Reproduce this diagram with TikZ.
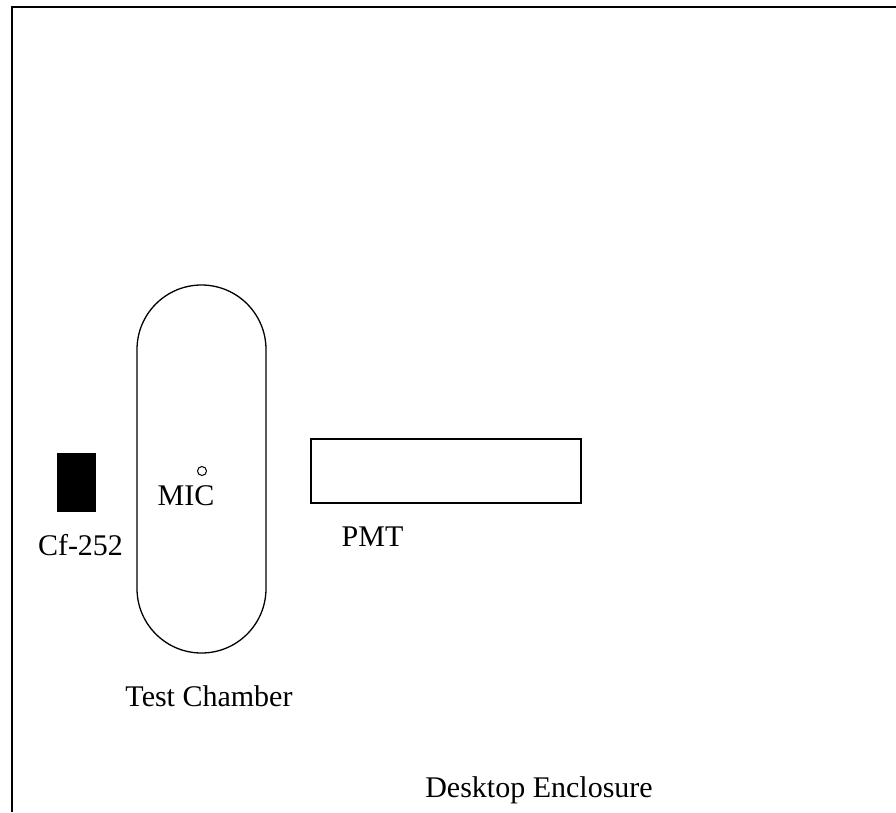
\documentclass[tikz,border=0pt]{standalone}
\usepackage{fontspec}
\setmainfont{Liberation Serif}
\usetikzlibrary{positioning}

\begin{document}
\begin{tikzpicture}[x=1pt,y=-1pt,
    txt/.style={font=\fontsize{30}{36}\selectfont, anchor=base, inner sep=0pt},
    part/.style={draw, line width=1.3pt, inner sep=0pt}]
    \useasboundingbox (0,0) rectangle (896,812);

    % enclosure walls
    \draw[line width=2pt] (12,812) -- (12,7) -- (896,7);

    \node[part, minimum width=129pt, minimum height=368pt, rounded corners=64.5pt] (chamber) at (201.5,469) {};
    \node[part, fill=black, minimum width=37pt, minimum height=57pt] (source) at (76.5,482.5) {};
    \node[part, minimum width=270pt, minimum height=64pt] (pmt) at (446,471) {};
    \node[draw, circle, line width=1pt, minimum size=9pt, inner sep=0pt] (mic) at (202,471) {};

    % labels
    \node[txt] (miclbl) at (186,505) {MIC};
    \node[txt] (srclbl) at (80.5,555) {Cf-252};
    \node[txt] (pmtlbl) at (372.5,546) {PMT};
    \node[txt] (chamberlbl) at (209,706) {Test Chamber};
    \node[txt] (enclbl) at (539,797) {Desktop Enclosure};
\end{tikzpicture}
\end{document}
